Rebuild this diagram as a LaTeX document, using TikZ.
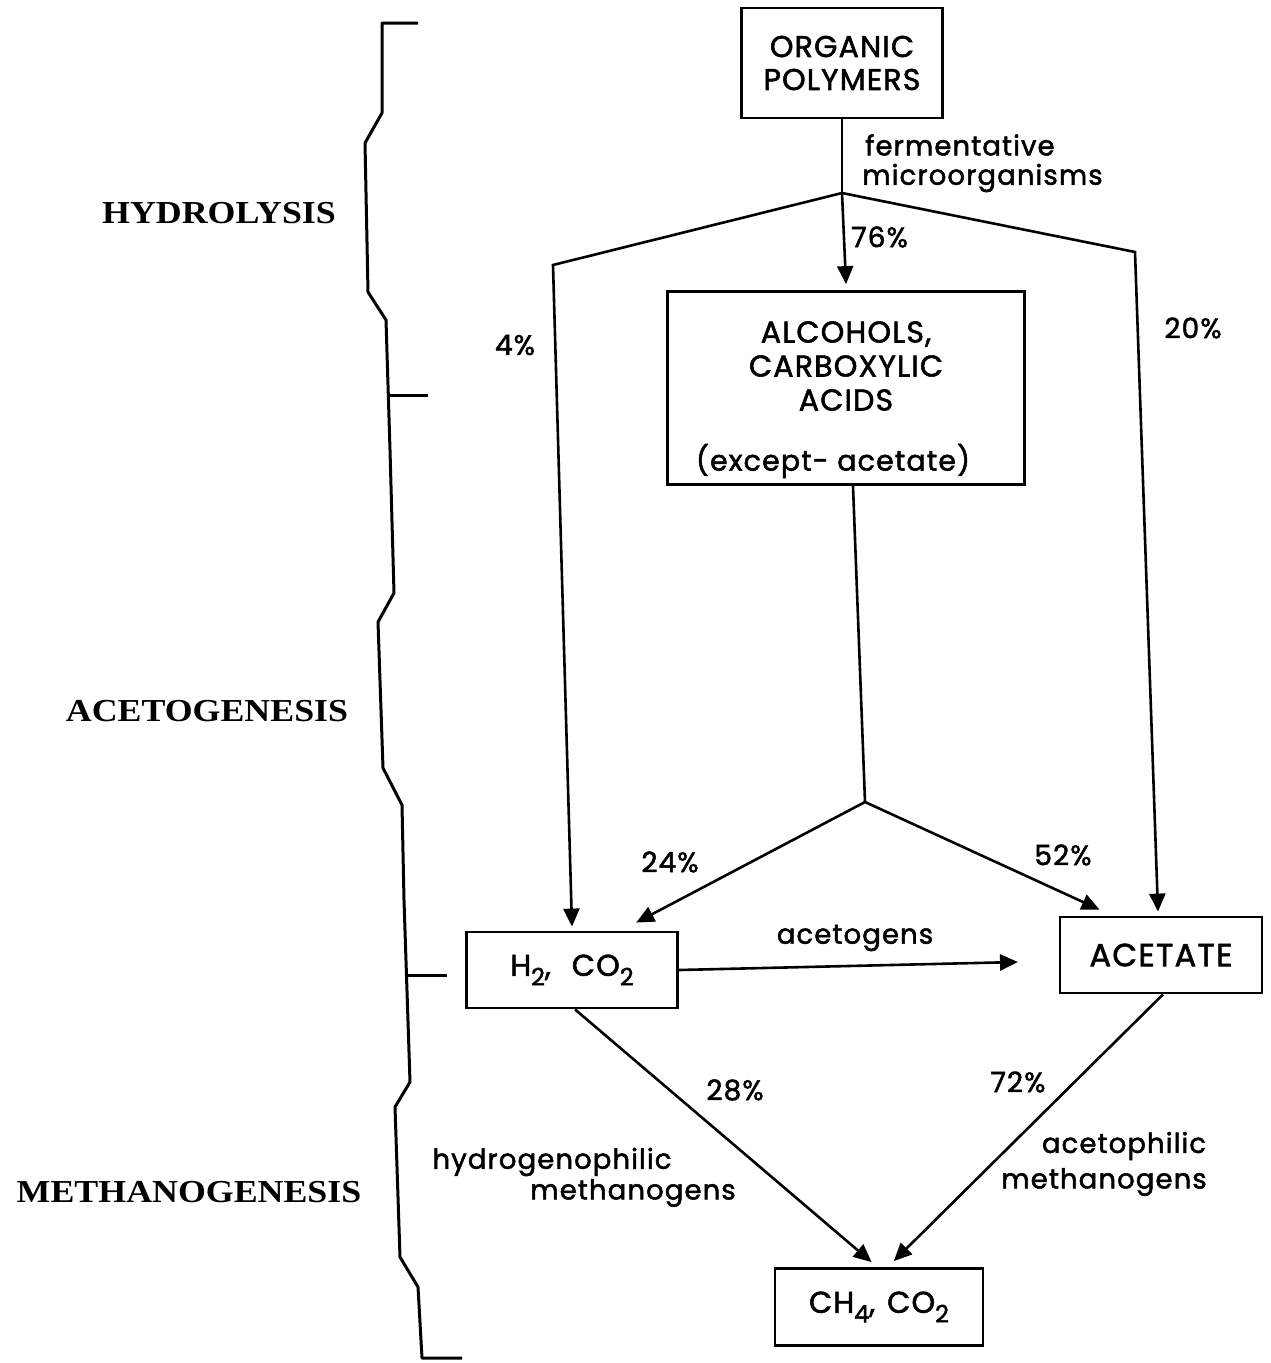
\documentclass[tikz,border=0pt]{standalone}
\usepackage{fontspec}
\setmainfont{Poppins}[LetterSpace=4,FakeBold=1.8]
\newfontfamily\phasefont{Liberation Serif}
\usetikzlibrary{arrows.meta,calc}
\newcommand\subs[1]{\raisebox{-0.32em}{\fontsize{24}{24}\selectfont #1}}
\begin{document}
\begin{tikzpicture}[x=1pt,y=-1pt,
  line width=2.6pt,
  box/.style={draw,line width=2.8pt,inner sep=0pt,align=center,font=\fontsize{30}{33}\selectfont},
  txt/.style={inner sep=0pt,align=center,font=\fontsize{30}{34}\selectfont},
  lbl/.style={inner sep=0pt,font=\fontsize{27.5}{33}\selectfont},
  pct/.style={inner sep=0pt,font=\fontsize{28}{30}\selectfont},
  phase/.style={inner sep=0pt,font=\phasefont\bfseries\fontsize{32}{34}\selectfont},
  arr/.style={-{Triangle[length=18pt,width=16pt]}},
]
\useasboundingbox (0,0) rectangle (1270,1363);

% bracket
\draw[line width=3pt,line join=round] (418,23) -- (382,23) -- (382,113) -- (365,143) -- (368,292) -- (386,320)
  -- (390,450) -- (394,593) -- (378,622) -- (383,768) -- (402,805) -- (404,900) -- (410,1082)
  -- (395,1107) -- (400,1257) -- (418,1287) -- (422,1358) -- (462,1358);
\coordinate (t1a) at (388,395); \coordinate (t1b) at (428,395);
\coordinate (t2a) at (407,975); \coordinate (t2b) at (447,975);
\draw[line width=3pt] (t1a) -- (t1b);
\draw[line width=3pt] (t2a) -- (t2b);

% phase labels
\node[phase] (hyd) at (219,213) {\scalebox{1.12}[1]{HYDROLYSIS}};
\node[phase] (ace) at (207,711) {\scalebox{1.12}[1]{ACETOGENESIS}};
\node[phase] (met) at (189,1192) {\scalebox{1.12}[1]{METHANOGENESIS}};

% boxes
\node[box,minimum width=201pt,minimum height=110pt] (op) at (842,63) {ORGANIC\\POLYMERS};
\node[draw,line width=2.8pt,minimum width=357pt,minimum height=193pt] (alc) at (846,388) {};
\node[txt] (alct) at (846,366) {ALCOHOLS,\\CARBOXYLIC\\ACIDS};
\node[txt,font=\fontsize{28.5}{30}\selectfont] (exc) at (833,461) {(except- acetate)};
\node[box,minimum width=211pt,minimum height=76pt] (h2) at (572,970) {H\subs{2},\hspace{0.7em}CO\subs{2}};
\node[box,minimum width=202pt,minimum height=76pt,font=\fontsize{32}{34}\selectfont] (acet) at (1161,955) {ACETATE};
\node[box,minimum width=208pt,minimum height=77pt] (ch4) at (879,1307) {CH\subs{4},\hspace{0.4em}CO\subs{2}};

% junctions
\coordinate (s1) at (842,193);
\coordinate (l1) at (553,265);
\coordinate (r1) at (1135,252);
\coordinate (s2) at (865,802);
\coordinate (agend) at (1018,962);

\draw (op.south) -- (s1);
\draw[arr] (s1) -- ($(alc.north)+(0,-6)$);
\draw[arr] (s1) -- (l1) -- ($(h2.north)+(0,-4)$);
\draw[arr] (s1) -- (r1) -- ($(acet.north)+(-3,-4)$);
\draw ($(alc.south)+(7,0)$) -- (s2);
\draw[arr] (s2) -- ($(h2.north)!0.6!(h2.north east)+(0,-8)$);
\draw[arr] (s2) -- ($(acet.north west)!0.4!(acet.north)+(0,-6)$);
\draw[arr] (h2.east) -- (agend);
\draw[arr] ($(h2.south)+(3,0)$) -- ($(ch4.north west)!0.93!(ch4.north)+(0,-5)$);
\draw[arr] ($(acet.south)+(2,0)$) -- ($(ch4.north)!0.14!(ch4.north east)+(0,-6)$);

% labels
\node[lbl,anchor=west] (fer) at (864,145) {fermentative};
\node[lbl,anchor=west] (mic) at (861,178) {microorganisms};
\node[pct,anchor=west] (p76) at (850,237) {76\%};
\node[pct] (p4) at (515,345) {4\%};
\node[pct] (p20) at (1193,328) {20\%};
\node[pct] (p24) at (670,862) {24\%};
\node[pct] (p52) at (1063,855) {52\%};
\node[pct] (p28) at (735,1090) {28\%};
\node[pct] (p72) at (1018,1082) {72\%};
\node[lbl] (acg) at (855,938) {acetogens};
\node[lbl] (hyp) at (552,1162) {hydrogenophilic};
\node[lbl] (hm) at (633,1193) {methanogens};
\node[lbl] (acp) at (1124,1146) {acetophilic};
\node[lbl] (am) at (1104,1182) {methanogens};
\end{tikzpicture}
\end{document}
